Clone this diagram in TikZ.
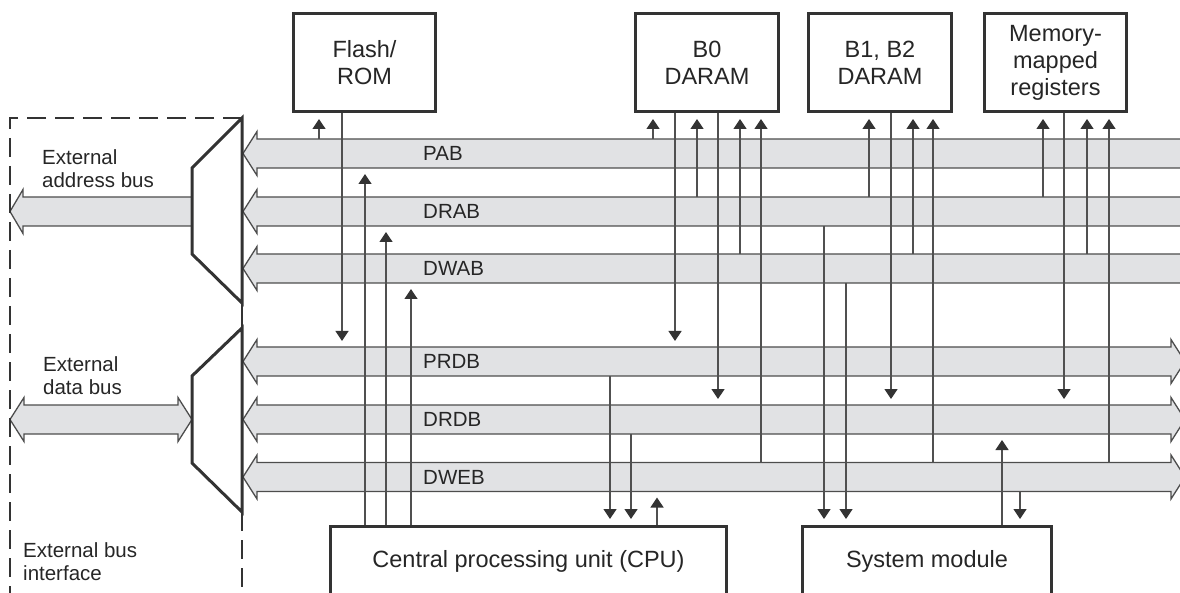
\documentclass[tikz,border=0pt]{standalone}
\usepackage{fontspec}
\setmainfont{Liberation Sans}
\usetikzlibrary{arrows.meta}

\definecolor{txt}{HTML}{262626}
\definecolor{boxc}{HTML}{333333}
\definecolor{busfill}{HTML}{E1E2E4}
\definecolor{busline}{HTML}{4D4D4D}
\definecolor{wirec}{HTML}{505050}
\definecolor{arrc}{HTML}{333333}

\newcommand{\busfont}{\fontsize{20.5}{23}\selectfont}
\newcommand{\boxfont}{\fontsize{23.5}{27}\selectfont}

\begin{document}
\begin{tikzpicture}[x=1pt, y=-1pt]
  \tikzstyle{every node}=[inner sep=0pt, text=txt]
  \tikzstyle{box}=[rectangle, draw=boxc, line width=3pt, fill=white, align=center,
    font=\boxfont, minimum width=142pt, minimum height=98pt]
  \tikzstyle{bus}=[fill=busfill, draw=busline, line width=1.3pt]
  \tikzstyle{buslbl}=[anchor=west, font=\busfont]
  \tikzstyle{extlbl}=[anchor=west, align=left, font=\busfont]
  \tikzstyle{wire}=[draw=wirec, line width=1.3pt, shorten >=6pt,
    -{Triangle[width=13pt, length=10pt, color=arrc]}]
  \tikzstyle{mux}=[draw=boxc, line width=3pt, fill=white]
  \tikzstyle{ebi}=[draw=boxc, line width=2pt, dash pattern=on 19pt off 9pt]

  \useasboundingbox (0,0) rectangle (1180,593);
  \clip (0,0) rectangle (1180,593);

  % address buses
  \foreach \n/\y/\t in {pab/153.5/PAB, drab/211.5/DRAB, dwab/268.5/DWAB}
  {
    \path[bus] (1190,\y-14.5) -- (257,\y-14.5) -- (257,\y-22) -- (243,\y)
      -- (257,\y+22) -- (257,\y+14.5) -- (1190,\y+14.5);
    \path (423,\y) node[buslbl] (\n) {\t};
    \coordinate (\n-t) at (423,\y-14.5);
    \coordinate (\n-b) at (423,\y+14.5);
  }

  % data buses
  \foreach \n/\y/\t in {prdb/361.5/PRDB, drdb/419.5/DRDB, dweb/477/DWEB}
  {
    \path[bus] (1171,\y-14.5) -- (257,\y-14.5) -- (257,\y-22) -- (243,\y)
      -- (257,\y+22) -- (257,\y+14.5) -- (1171,\y+14.5) -- (1171,\y+22)
      -- (1185,\y) -- (1171,\y-22) -- cycle;
    \path (423,\y) node[buslbl] (\n) {\t};
    \coordinate (\n-t) at (423,\y-14.5);
    \coordinate (\n-b) at (423,\y+14.5);
  }

  % external side
  \path[bus] (192,197) -- (23,197) -- (23,189.5) -- (10,211.5) -- (23,233.5)
    -- (23,226) -- (192,226);
  \path[bus] (178,405) -- (24,405) -- (24,397.5) -- (10,419.5) -- (24,441.5)
    -- (24,434) -- (178,434) -- (178,441.5) -- (192,419.5) -- (178,397.5) -- cycle;
  \draw[ebi] (242,118) -- (10,118) -- (10,604);
  \draw[ebi] (242,512) -- (242,604);
  \draw[draw=boxc, line width=2pt] (242,303) -- (242,328);
  \path[mux] (242,118) -- (192,168) -- (192,254) -- (242,303) -- cycle;
  \path[mux] (242,328) -- (192,376) -- (192,463) -- (242,512) -- cycle;

  \path (42,169) node[extlbl] (extaddr) {External\\address bus};
  \path (43,376) node[extlbl] (extdata) {External\\data bus};
  \path (23,562) node[extlbl] (extif) {External bus\\interface};

  % memories and units
  \path (364.5,62.5) node[box] (flash) {Flash/\\ROM};
  \path (707,62.5) node[box, minimum width=143pt] (bzero) {B0\\DARAM};
  \path (880,62.5) node[box, minimum width=143pt] (bone) {B1, B2\\DARAM};
  \path (1055.5,62.5) node[box] (mmr) {Memory-\\mapped\\registers};
  \path (528.5,525) node[box, anchor=north, minimum width=396pt, minimum height=110pt] (cpu) {};
  \path (927,525) node[box, anchor=north, minimum width=249pt, minimum height=110pt] (sysmod) {};
  \path (528.5,567) node[anchor=base, font=\boxfont] (cpulbl) {Central processing unit (CPU)};
  \path (927,567) node[anchor=base, font=\boxfont] (smlbl) {System module};

  % bus -> memory
  \foreach \x/\src/\dst in {319/pab-t/flash, 653/pab-t/bzero, 697/drab-t/bzero,
    740/dwab-t/bzero, 761/dweb-t/bzero, 869/drab-t/bone, 913/dwab-t/bone,
    933/dweb-t/bone, 1043/drab-t/mmr, 1087/dwab-t/mmr, 1109/dweb-t/mmr}
    \draw[wire] (\x,0 |- \src) -- (\x,0 |- \dst.south);

  % memory -> bus
  \foreach \x/\src/\dst in {342/flash/prdb-t, 675/bzero/prdb-t, 718/bzero/drdb-t,
    891/bone/drdb-t, 1064/mmr/drdb-t}
    \draw[wire] (\x,0 |- \src.south) -- (\x,0 |- \dst);

  % cpu, system module -> bus
  \foreach \x/\src/\dst in {365/cpu/pab-b, 386/cpu/drab-b, 411/cpu/dwab-b,
    657/cpu/dweb-b, 1002/sysmod/drdb-b}
    \draw[wire] (\x,0 |- \src.north) -- (\x,0 |- \dst);

  % bus -> cpu, system module
  \foreach \x/\src/\dst in {610/prdb-b/cpu, 631/drdb-b/cpu, 824/drab-b/sysmod,
    846/dwab-b/sysmod, 1020/dweb-b/sysmod}
    \draw[wire] (\x,0 |- \src) -- (\x,0 |- \dst.north);
\end{tikzpicture}
\end{document}
